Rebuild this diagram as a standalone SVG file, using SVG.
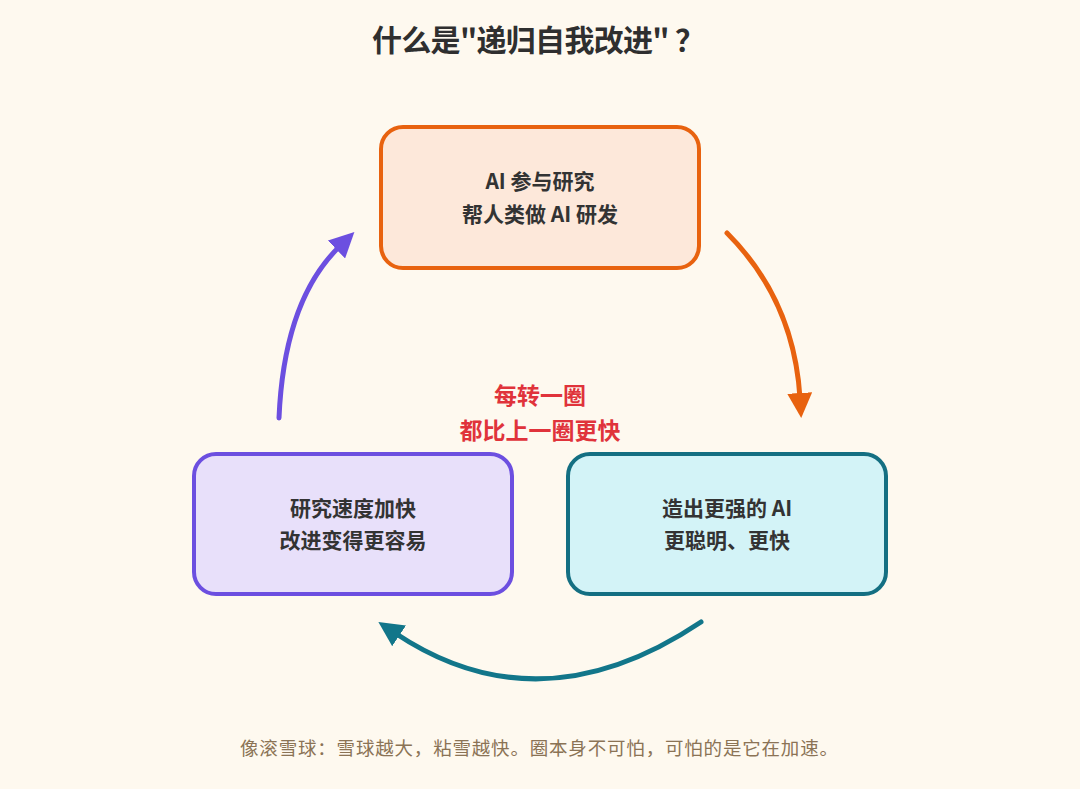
<svg xmlns="http://www.w3.org/2000/svg" width="1080" height="789" viewBox="0 0 1080 789">
<defs>
<style>
.t{font-family:"Noto Sans CJK SC","Noto Sans",sans-serif;}
.title{font-size:30px;font-weight:700;fill:#2f2f2f;}
.lbl{font-size:21px;font-weight:700;fill:#333;}
.red{font-size:23px;font-weight:700;fill:#E0333B;}
.foot{font-size:18.5px;fill:#8B7355;}
.box{stroke-width:4;}
.arc{fill:none;stroke-width:5;stroke-linecap:round;}
</style>
<marker id="mo" viewBox="0 0 10 10" refX="2" refY="5" markerWidth="5" markerHeight="5" orient="auto" markerUnits="strokeWidth"><path d="M0,0 L10,5 L0,10 z" fill="#E8620F"/></marker>
<marker id="mp" viewBox="0 0 10 10" refX="2" refY="5" markerWidth="5" markerHeight="5" orient="auto" markerUnits="strokeWidth"><path d="M0,0 L10,5 L0,10 z" fill="#6C4FE0"/></marker>
<marker id="mt" viewBox="0 0 10 10" refX="2" refY="5" markerWidth="5" markerHeight="5" orient="auto" markerUnits="strokeWidth"><path d="M0,0 L10,5 L0,10 z" fill="#12768A"/></marker>
</defs>
<rect width="1080" height="789" fill="#FEF9EF"/>
<text class="t title" x="372" y="51" textLength="333" lengthAdjust="spacing">什么是"递归自我改进" ？</text>

<g id="connectors">
<path class="arc" d="M727,233 Q794,300 800,398" stroke="#E8620F" marker-end="url(#mo)"/>
<path class="arc" d="M279,418 Q284,300 340,246" stroke="#6C4FE0" marker-end="url(#mp)"/>
<path class="arc" d="M701,622 Q540,730 395,633" stroke="#12768A" marker-end="url(#mt)"/>
</g>

<g id="node-research">
<rect class="box" x="381" y="127" width="318" height="141" rx="22" fill="#FDE8DA" stroke="#E8620F"/>
<text class="t lbl" x="540" y="189" text-anchor="middle">AI 参与研究</text>
<text class="t lbl" x="540" y="222" text-anchor="middle">帮人类做 AI 研发</text>
</g>

<g id="node-stronger">
<rect class="box" x="568" y="454" width="318" height="140" rx="22" fill="#D3F3F7" stroke="#146F82"/>
<text class="t lbl" x="727" y="516" text-anchor="middle">造出更强的 AI</text>
<text class="t lbl" x="727" y="548" text-anchor="middle">更聪明、更快</text>
</g>

<g id="node-faster">
<rect class="box" x="194" y="454" width="318" height="140" rx="22" fill="#E8E0FA" stroke="#6C4FE0"/>
<text class="t lbl" x="353" y="516" text-anchor="middle">研究速度加快</text>
<text class="t lbl" x="353" y="548" text-anchor="middle">改进变得更容易</text>
</g>

<g id="center-label">
<text class="t red" x="540" y="404" text-anchor="middle">每转一圈</text>
<text class="t red" x="540" y="439" text-anchor="middle">都比上一圈更快</text>
</g>

<text class="t foot" x="240" y="755" textLength="598" lengthAdjust="spacing">像滚雪球：雪球越大，粘雪越快。圈本身不可怕，可怕的是它在加速。</text>
</svg>
